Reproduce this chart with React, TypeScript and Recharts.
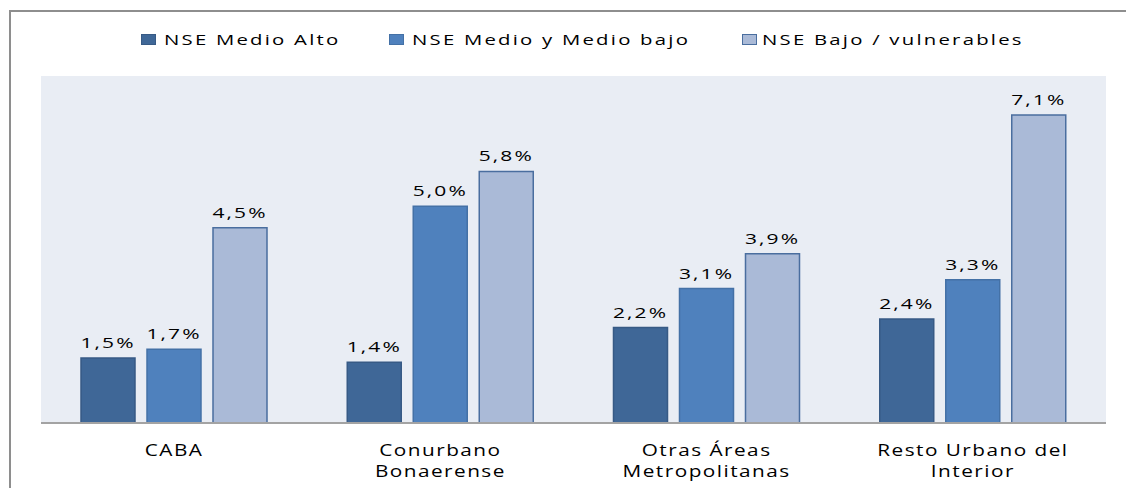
import React from "react";
import { BarChart, Bar, XAxis, YAxis, CartesianGrid, LabelList } from "recharts";

const regions = [
  "CABA",
  "Conurbano Bonaerense",
  "Otras Áreas Metropolitanas",
  "Resto Urbano del Interior",
];
const regionLines: Record<string, string[]> = {
  CABA: ["CABA"],
  "Conurbano Bonaerense": ["Conurbano", "Bonaerense"],
  "Otras Áreas Metropolitanas": ["Otras Áreas", "Metropolitanas"],
  "Resto Urbano del Interior": ["Resto Urbano del", "Interior"],
};
const medioAlto = [1.5, 1.4, 2.2, 2.4];
const medioBajo = [1.7, 5.0, 3.1, 3.3];
const bajoVuln = [4.5, 5.8, 3.9, 7.1];

const seriesNames = ["NSE Medio Alto", "NSE Medio y Medio bajo", "NSE Bajo / vulnerables"];
const colors = ["#3F6797", "#4F81BD", "#AABAD7"];
const strokes = ["#375A85", "#4471A6", "#4A6E9F"];

const data = regions.map((r, i) => ({
  region: r,
  a: medioAlto[i],
  b: medioBajo[i],
  c: bajoVuln[i],
}));

const FONT = "'Open Sans', 'DejaVu Sans', sans-serif";
const fmt = (v: any) => `${Number(v).toFixed(1).replace(".", ",")}%`;

// the original picture is stretched sideways, so text gets a scaleX
function RegionTick(props: any) {
  const { x, y, payload } = props;
  const lines = regionLines[payload.value] || [payload.value];
  return (
    <g>
      {lines.map((l, i) => (
        <text
          key={i}
          transform={`translate(${x} ${y + 25 + i * 21}) scale(1.34 1)`}
          textAnchor="middle"
          fill="#000"
          fontSize={15.5}
          fontFamily={FONT}
          letterSpacing={1.1}
        >
          {l}
        </text>
      ))}
    </g>
  );
}

function ValueLabel(props: any) {
  const { x, y, width, value } = props;
  return (
    <text
      transform={`translate(${Number(x) + Number(width) / 2} ${Number(y) - 10}) scale(1.4 1)`}
      textAnchor="middle"
      fill="#000"
      fontSize={15}
      fontFamily={FONT}
      letterSpacing={1.5}
    >
      {fmt(value)}
    </text>
  );
}

const legendPos = [
  { sq: 141, tx: 164 },
  { sq: 389, tx: 412 },
  { sq: 742, tx: 762 },
];

export default function App() {
  const keys = ["a", "b", "c"];
  return (
    <div style={{ position: "absolute", left: 0, top: 0, width: 1126, height: 488, background: "#fff", overflow: "hidden", fontFamily: FONT }}>
      <div
        style={{
          position: "absolute",
          left: 9,
          top: 10,
          width: 1130,
          height: 500,
          borderLeft: "2px solid #8E8E8E",
          borderTop: "2px solid #8E8E8E",
        }}
      />
      {seriesNames.map((n, i) => (
        <React.Fragment key={n}>
          <div
            style={{
              position: "absolute",
              left: legendPos[i].sq,
              top: 34,
              width: 13,
              height: 9,
              background: colors[i],
              border: `1px solid ${strokes[i]}`,
            }}
          />
          <div
            style={{
              position: "absolute",
              left: legendPos[i].tx,
              top: 30,
              fontSize: 14.5,
              lineHeight: "20px",
              letterSpacing: 1.6,
              color: "#000",
              whiteSpace: "nowrap",
              transform: "scaleX(1.4)",
              transformOrigin: "0 0",
            }}
          >
            {n}
          </div>
        </React.Fragment>
      ))}
      <div style={{ position: "absolute", left: 0, top: 0 }}>
        <BarChart
          width={1126}
          height={488}
          data={data}
          margin={{ top: 76, right: 20, left: 41, bottom: 0 }}
          barCategoryGap={40}
          barGap={12}
        >
          <CartesianGrid fill="#E9EDF4" horizontal={false} vertical={false} stroke="none" />
          <YAxis hide domain={[0, 8]} />
          <XAxis
            dataKey="region"
            height={65}
            axisLine={{ stroke: "#A3A3A3", strokeWidth: 2 }}
            tickLine={false}
            tick={<RegionTick />}
            interval={0}
          />
          {keys.map((k, i) => (
            <Bar key={k} dataKey={k} name={seriesNames[i]} fill={colors[i]} stroke={strokes[i]} strokeWidth={1.5} isAnimationActive={false}>
              <LabelList dataKey={k} content={<ValueLabel />} />
            </Bar>
          ))}
        </BarChart>
      </div>
    </div>
  );
}
